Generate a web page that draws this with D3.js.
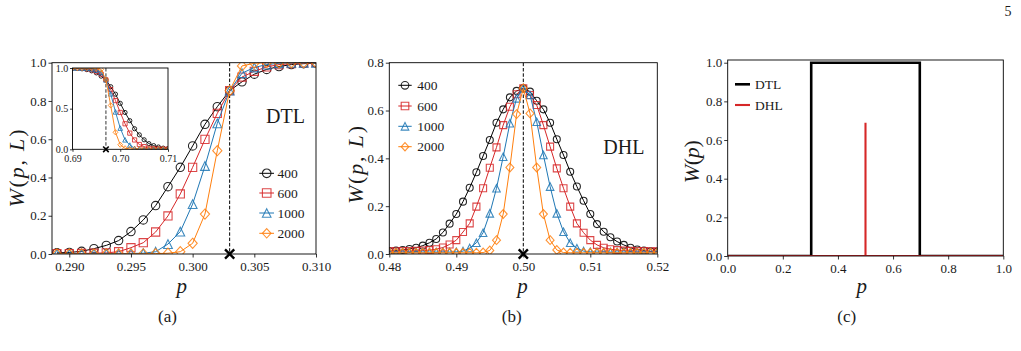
<!DOCTYPE html>
<html><head><meta charset="utf-8">
<script src="https://cdn.jsdelivr.net/npm/d3@7"></script>
<style>
body{margin:0;background:#fff;}
svg{display:block;}
</style></head><body>
<svg id="fig" width="1021" height="351"></svg>
<script>
// ---------------- data ----------------
const sizeLabels = ["400", "600", "1000", "2000"];
const seriesColors = ["#000000", "#d62728", "#1f77b4", "#ff7f0e"];
const markerShapes = ["circle", "square", "triangle", "diamond"];

// panel (a): DTL near p = 0.303
const pDTL = [0.289,0.290,0.291,0.292,0.293,0.294,0.295,0.296,0.297,0.298,0.299,0.300,0.301,0.302,0.303,0.304,0.305,0.306,0.307,0.308,0.309,0.310];
const wDTL400  = [0.006,0.008,0.014,0.028,0.045,0.070,0.117,0.178,0.253,0.352,0.453,0.565,0.678,0.770,0.854,0.900,0.940,0.965,0.980,0.990,0.995,0.998];
const wDTL600  = [0.002,0.002,0.003,0.004,0.006,0.012,0.033,0.059,0.115,0.199,0.314,0.453,0.599,0.735,0.854,0.925,0.955,0.978,0.990,0.995,0.998,1.000];
const wDTL1000 = [0.001,0.001,0.002,0.002,0.002,0.002,0.003,0.004,0.012,0.052,0.117,0.261,0.460,0.683,0.854,0.945,0.975,0.990,0.997,0.999,1.000,1.000];
const wDTL2000 = [0.000,0.000,0.000,0.000,0.000,0.000,0.000,0.001,0.002,0.004,0.012,0.056,0.209,0.540,0.854,0.983,0.997,1.000,1.000,1.000,1.000,1.000];

// inset of (a): DTL near p = 0.697
const pInset = [0.690,0.691,0.692,0.693,0.694,0.695,0.696,0.697,0.698,0.699,0.700,0.701,0.702,0.703,0.704,0.705,0.706,0.707,0.708,0.709,0.710];
const wIn400  = [0.998,0.995,0.990,0.980,0.965,0.940,0.900,0.854,0.770,0.678,0.565,0.453,0.352,0.253,0.178,0.117,0.070,0.045,0.028,0.014,0.008];
const wIn600  = [1.000,0.998,0.995,0.990,0.978,0.955,0.925,0.854,0.735,0.599,0.453,0.314,0.199,0.115,0.059,0.033,0.012,0.006,0.004,0.003,0.002];
const wIn1000 = [1.000,1.000,0.999,0.997,0.990,0.975,0.945,0.854,0.683,0.460,0.261,0.117,0.052,0.012,0.004,0.003,0.002,0.002,0.002,0.002,0.001];
const wIn2000 = [1.000,1.000,1.000,1.000,1.000,0.997,0.983,0.854,0.540,0.209,0.056,0.012,0.004,0.002,0.001,0.000,0.000,0.000,0.000,0.000,0.000];

// panel (b): DHL near p = 0.5
const pDHL = [0.480,0.481,0.482,0.483,0.484,0.485,0.486,0.487,0.488,0.489,0.490,0.491,0.492,0.493,0.494,0.495,0.496,0.497,0.498,0.499,0.500,
              0.501,0.502,0.503,0.504,0.505,0.506,0.507,0.508,0.509,0.510,0.511,0.512,0.513,0.514,0.515,0.516,0.517,0.518,0.519,0.520];
const wDHL400  = [0.012,0.014,0.017,0.021,0.026,0.035,0.047,0.063,0.090,0.127,0.167,0.219,0.277,0.342,0.410,0.477,0.549,0.605,0.655,0.682,0.693,
                  0.679,0.641,0.605,0.549,0.480,0.414,0.344,0.282,0.223,0.167,0.125,0.093,0.070,0.052,0.038,0.026,0.019,0.014,0.011,0.010];
const wDHL600  = [0.011,0.011,0.012,0.012,0.013,0.014,0.016,0.020,0.027,0.040,0.058,0.092,0.128,0.198,0.275,0.361,0.446,0.539,0.616,0.668,0.693,
                  0.665,0.623,0.539,0.449,0.358,0.275,0.198,0.128,0.089,0.058,0.038,0.026,0.020,0.016,0.014,0.013,0.012,0.012,0.011,0.011];
const wDHL1000 = [0.008,0.008,0.008,0.008,0.008,0.008,0.008,0.008,0.008,0.008,0.009,0.012,0.025,0.047,0.089,0.170,0.275,0.407,0.547,0.651,0.693,
                  0.665,0.553,0.414,0.282,0.170,0.093,0.047,0.024,0.012,0.009,0.008,0.008,0.008,0.008,0.008,0.008,0.008,0.008,0.008,0.008];
const wDHL2000 = [0.005,0.005,0.005,0.005,0.005,0.005,0.005,0.005,0.005,0.005,0.005,0.005,0.005,0.005,0.006,0.015,0.058,0.167,0.362,0.585,0.693,
                  0.588,0.362,0.167,0.058,0.017,0.006,0.005,0.005,0.005,0.005,0.005,0.005,0.005,0.005,0.005,0.005,0.005,0.005,0.005,0.005];

// panel (c): thermodynamic limit
const pC_DTL = [0.0, 0.303, 0.303, 0.697, 0.697, 1.0];
const wC_DTL = [0, 0, 1, 1, 0, 0];
const pC_DHL = [0.0, 0.5, 0.5, 0.5, 1.0];
const wC_DHL = [0, 0, 0.69, 0, 0];

// critical points
const pcDTL = 0.303, pcDTLInset = 0.697, pcDHL = 0.5;

// ticks
const ticksAx = [0.290,0.295,0.300,0.305,0.310];
const ticksAy = [0,0.2,0.4,0.6,0.8,1.0];
const ticksInX = [0.69,0.70,0.71];
const ticksInY = [0,0.5,1.0];
const ticksBx = [0.48,0.49,0.50,0.51,0.52];
const ticksBy = [0,0.2,0.4,0.6,0.8];
const ticksC = [0,0.2,0.4,0.6,0.8,1.0];

// ---------------- drawing ----------------
const FONT = "'Liberation Serif','DejaVu Serif',serif";
const TXT = "#1a1a1a";
const svg = d3.select("#fig").style("font-family", FONT);
let clipId = 0;

function markerPath(shape, s) {
  if (shape === "circle") return `M${-s},0A${s},${s} 0 1,0 ${s},0A${s},${s} 0 1,0 ${-s},0Z`;
  if (shape === "square") return `M${-s},${-s}H${s}V${s}H${-s}Z`;
  if (shape === "triangle") return `M0,${-s}L${s},${s}L${-s},${s}Z`;
  return `M0,${-s*1.1}L${s*1.0},0L0,${s*1.1}L${-s*1.0},0Z`;
}

function makePanel(c) {
  const x = d3.scaleLinear().domain(c.xd).range([c.l, c.r]);
  const y = d3.scaleLinear().domain(c.yd).range([c.b, c.t]);
  const g = svg.append("g");
  if (c.bg) g.append("rect").attr("x", c.l).attr("y", c.t).attr("width", c.r - c.l).attr("height", c.b - c.t).attr("fill", "#fff");
  const id = "clip" + (clipId++);
  g.append("clipPath").attr("id", id).append("rect")
    .attr("x", c.l).attr("y", c.t).attr("width", c.r - c.l).attr("height", c.b - c.t);
  const ax = g.append("g").attr("transform", `translate(0,${c.b})`)
    .call(d3.axisBottom(x).tickValues(c.xt).tickFormat(d3.format(c.xf)).tickSize(c.ts).tickPadding(c.tp).tickSizeOuter(0));
  const ay = g.append("g").attr("transform", `translate(${c.l},0)`)
    .call(d3.axisLeft(y).tickValues(c.yt).tickFormat(d3.format(c.yf)).tickSize(c.ts).tickPadding(c.tpy).tickSizeOuter(0));
  [ax, ay].forEach(a => {
    a.attr("font-family", FONT);
    a.select(".domain").remove();
    a.selectAll("line").attr("stroke", "#000").attr("stroke-width", 0.8);
    a.selectAll("text").attr("font-family", FONT).attr("font-size", c.fs).attr("fill", TXT);
  });
  const data = g.append("g").attr("clip-path", `url(#${id})`);
  return { x, y, g, data, c };
}

function drawFrame(P) {
  const c = P.c;
  P.g.append("rect").attr("x", c.l).attr("y", c.t).attr("width", c.r - c.l).attr("height", c.b - c.t)
    .attr("fill", "none").attr("stroke", "#000").attr("stroke-width", 0.9);
}

function drawSeries(P, ps, ws, color, shape, ms, lw) {
  const pts = d3.zip(ps, ws);
  const line = d3.line().x(d => P.x(d[0])).y(d => P.y(d[1]));
  P.data.append("path").datum(pts).attr("d", line).attr("fill", "none")
    .attr("stroke", color).attr("stroke-width", lw);
  P.data.append("g").selectAll("path").data(pts).join("path")
    .attr("transform", d => `translate(${P.x(d[0])},${P.y(d[1])})`)
    .attr("d", markerPath(shape, ms)).attr("fill", "none")
    .attr("stroke", color).attr("stroke-width", lw * 1.1).attr("stroke-opacity", 0.85);
}

function drawCritical(P, pc, xs, sw) {
  P.data.append("line").attr("x1", P.x(pc)).attr("x2", P.x(pc)).attr("y1", P.c.t).attr("y2", P.c.b)
    .attr("stroke", "#000").attr("stroke-width", sw > 2 ? 1 : 0.8).attr("stroke-dasharray", "3.5,1.8");
  const cx = P.x(pc), cy = P.y(0);
  P.g.append("path").attr("d", `M${cx-xs},${cy-xs}L${cx+xs},${cy+xs}M${cx-xs},${cy+xs}L${cx+xs},${cy-xs}`)
    .attr("stroke", "#000").attr("stroke-width", sw).attr("fill", "none");
}

function legend(x0, x1, xm, xt, ys, ms, shapes, fs) {
  sizeLabels.forEach((lab, i) => {
    const y = ys[i];
    svg.append("line").attr("x1", x0).attr("x2", x1).attr("y1", y).attr("y2", y)
      .attr("stroke", seriesColors[i]).attr("stroke-width", 1);
    svg.append("path").attr("transform", `translate(${xm},${y})`).attr("d", markerPath(shapes[i], ms))
      .attr("fill", "none").attr("stroke", seriesColors[i]).attr("stroke-width", 1.1).attr("stroke-opacity", 0.85);
    svg.append("text").attr("x", xt).attr("y", y).attr("dy", "0.35em").attr("font-size", fs)
      .attr("fill", TXT).text(lab);
  });
}

function ylabel(cx, cy, parts, len) {
  const t = svg.append("text").attr("transform", `translate(${cx},${cy}) rotate(-90)`)
    .attr("text-anchor", "middle").attr("dy", "0.33em").attr("font-size", 22).attr("fill", TXT)
    .attr("textLength", len).attr("lengthAdjust", "spacing");
  parts.forEach(p => t.append("tspan").attr("font-style", p[1] ? "italic" : "normal").text(p[0]));
}
function xlabel(cx, by) {
  svg.append("text").attr("x", cx).attr("y", by).attr("text-anchor", "middle")
    .attr("font-size", 21).attr("font-style", "italic").attr("fill", TXT).text("p");
}
function caption(cx, by, s) {
  svg.append("text").attr("x", cx).attr("y", by).attr("text-anchor", "middle")
    .attr("font-size", 17).attr("fill", TXT).text(s);
}

// ---- panel (a)
const A = makePanel({ l: 52, r: 316, t: 62.7, b: 254, xd: [0.2886, 0.310], yd: [0, 1],
  xt: ticksAx, yt: ticksAy, xf: ".3f", yf: ".1f", ts: 3.5, tp: 3.8, tpy: 2, fs: 13 });
const dtlSeries = [wDTL400, wDTL600, wDTL1000, wDTL2000];
const msA = [4.2, 4.1, 4.4, 4.6];
drawCritical(A, pcDTL, 4.6, 2.4);
dtlSeries.forEach((w, i) => drawSeries(A, pDTL, w, seriesColors[i], markerShapes[i], msA[i], 1));
drawFrame(A);

// inset
const I = makePanel({ l: 72.5, r: 168, t: 68, b: 149.3, xd: [0.69, 0.71], yd: [0, 1], bg: true,
  xt: ticksInX, yt: ticksInY, xf: ".2f", yf: ".1f", ts: 2.5, tp: 3, tpy: 1.7, fs: 10 });
const inSeries = [wIn400, wIn600, wIn1000, wIn2000];
const msI = [2.1, 2.1, 2.3, 2.4];
drawCritical(I, pcDTLInset, 2.8, 1.6);
inSeries.forEach((w, i) => drawSeries(I, pInset, w, seriesColors[i], markerShapes[i], msI[i], 0.9));
drawFrame(I);

legend(259.3, 274, 266.7, 277.5, [173.3, 193, 213, 233.3], 4.3, markerShapes, 13.5);
svg.append("text").attr("x", 266).attr("y", 123.3).attr("font-size", 20).attr("fill", TXT).text("DTL");
ylabel(16.7, 168.5, [["W", 1], ["(", 0], ["p", 1], [", ", 0], ["L", 1], [")", 0]], 78);
xlabel(181.7, 292.5);
caption(167.5, 322, "(a)");

// ---- panel (b)
const B = makePanel({ l: 389.3, r: 657.3, t: 62.7, b: 254, xd: [0.48, 0.52], yd: [0, 0.8],
  xt: ticksBx, yt: ticksBy, xf: ".2f", yf: ".1f", ts: 3.5, tp: 3.8, tpy: 2, fs: 13 });
const dhlSeries = [wDHL400, wDHL600, wDHL1000, wDHL2000];
const msB = [3.5, 3.5, 3.8, 4.0];
drawCritical(B, pcDHL, 4.6, 2.4);
dhlSeries.forEach((w, i) => drawSeries(B, pDHL, w, seriesColors[i], markerShapes[i], msB[i], 1));
drawFrame(B);
legend(398.3, 411.7, 405, 417.3, [85.3, 106, 126.3, 146.7], 3.8, markerShapes, 13.5);
svg.append("text").attr("x", 603.3).attr("y", 154).attr("font-size", 20).attr("fill", TXT).text("DHL");
ylabel(355.3, 165, [["W", 1], ["(", 0], ["p", 1], [", ", 0], ["L", 1], [")", 0]], 78);
xlabel(522.5, 292.5);
caption(511.7, 322, "(b)");

// ---- panel (c)
const C = makePanel({ l: 727.7, r: 1003.3, t: 60, b: 256, xd: [0, 1], yd: [0, 1.014],
  xt: ticksC, yt: ticksC, xf: ".1f", yf: ".1f", ts: 3.5, tp: 3.8, tpy: 2, fs: 13 });
const lineC = d3.line().x(d => C.x(d[0])).y(d => C.y(d[1]));
C.data.append("path").datum(d3.zip(pC_DTL, wC_DTL)).attr("d", lineC).attr("fill", "none")
  .attr("stroke", "#000").attr("stroke-width", 2.6);
C.data.append("path").datum(d3.zip(pC_DHL, wC_DHL)).attr("d", lineC).attr("fill", "none")
  .attr("stroke", "#d62728").attr("stroke-width", 2.1);
drawFrame(C);
[["DTL", "#000", 84.3, 2.6], ["DHL", "#d62728", 105, 2.1]].forEach(e => {
  svg.append("line").attr("x1", 735).attr("x2", 750).attr("y1", e[2]).attr("y2", e[2])
    .attr("stroke", e[1]).attr("stroke-width", e[3]);
  svg.append("text").attr("x", 755).attr("y", e[2]).attr("dy", "0.35em").attr("font-size", 13.5)
    .attr("fill", TXT).text(e[0]);
});
ylabel(691.7, 161.7, [["W", 1], ["(", 0], ["p", 1], [")", 0]], 43);
xlabel(861.7, 292.5);
caption(846.7, 322, "(c)");

// page number
svg.append("text").attr("x", 1008).attr("y", 16).attr("text-anchor", "middle")
  .attr("font-size", 14).attr("fill", TXT).text("5");
</script>
</body></html>
